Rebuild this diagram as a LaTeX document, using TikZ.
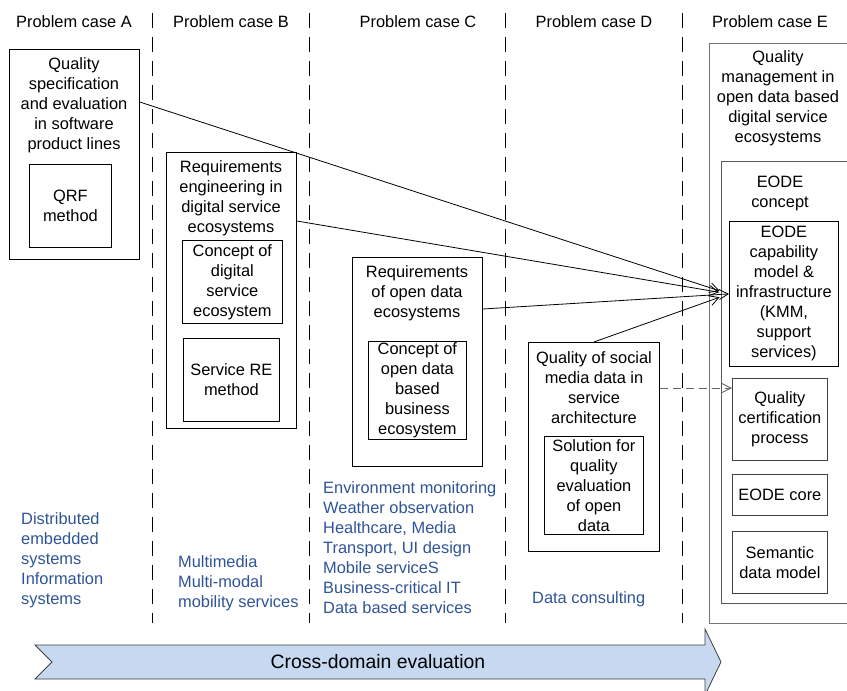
\documentclass[tikz,border=0pt]{standalone}
\usepackage{fontspec}
\setmainfont{Liberation Sans}
\usetikzlibrary{arrows.meta,calc}

\definecolor{domainblue}{RGB}{47,84,150}
\definecolor{bandfill}{RGB}{198,217,240}
\definecolor{bandline}{RGB}{64,64,64}
\definecolor{outergray}{RGB}{118,118,118}
\definecolor{midgray}{RGB}{90,90,90}
\definecolor{innergray}{RGB}{64,64,64}
\definecolor{dashgray}{RGB}{100,100,100}

\begin{document}
\begin{tikzpicture}[x=1pt,y=-1pt,
  font=\fontsize{16.4}{20}\selectfont,
  frame/.style={draw, line width=0.8pt, inner sep=0pt, anchor=north west, align=center},
  title/.style={align=center, inner sep=0pt},
  header/.style={inner sep=0pt},
  domaintext/.style={align=left, text=domainblue, inner sep=0pt, anchor=west},
  lane/.style={line width=0.8pt, dash pattern=on 15pt off 9pt},
  link/.style={line width=0.8pt, -{Straight Barb[length=9pt,width=10pt]}},
  weaklink/.style={line width=0.9pt, draw=dashgray, dash pattern=on 8pt off 5pt,
    -{Straight Barb[length=9pt,width=9pt]}}
]
\useasboundingbox (0,0) rectangle (847,691);
\clip (0,0) rectangle (847,691);

% lane separators
\coordinate (s1t) at (152,13); \coordinate (s1b) at (152,623);
\coordinate (s2t) at (309,13); \coordinate (s2b) at (309,623);
\coordinate (s3t) at (505,13); \coordinate (s3b) at (505,623);
\coordinate (s4t) at (682,13); \coordinate (s4b) at (682,623);
\draw[lane] (s1t) -- (s1b);
\draw[lane] (s2t) -- (s2b);
\draw[lane] (s3t) -- (s3b);
\draw[lane] (s4t) -- (s4b);

% column headers
\node[header] (hA) at (74,22) {Problem case A};
\node[header] (hB) at (231,22) {Problem case B};
\node[header] (hC) at (418,22) {Problem case C};
\node[header] (hD) at (594,22) {Problem case D};
\node[header] (hE) at (770,22) {Problem case E};

% case A
\node[frame, minimum width=130pt, minimum height=210pt] (A) at (9,49) {};
\node[title] (Atitle) at (74,105) {Quality\\specification\\and evaluation\\in software\\product lines};
\node[frame, minimum width=82pt, minimum height=83pt] (qrf) at (29,164) {QRF\\method};

% case B
\node[frame, minimum width=130pt, minimum height=276pt] (B) at (166,152) {};
\node[title] (Btitle) at (231,198) {Requirements\\engineering in\\digital service\\ecosystems};
\node[frame, minimum width=100pt, minimum height=83pt] (dse) at (182,240) {Concept of\\digital\\service\\ecosystem};
\node[frame, minimum width=96pt, minimum height=83pt] (sre) at (183,338) {Service RE\\method};

% case C
\node[frame, minimum width=130pt, minimum height=209pt] (C) at (352,257) {};
\node[title] (Ctitle) at (417,293) {Requirements\\of open data\\ecosystems};
\node[frame, minimum width=98pt, minimum height=98pt] (odb) at (368,341) {Concept of\\open data\\based\\business\\ecosystem};

% case D
\node[frame, minimum width=131pt, minimum height=209pt] (D) at (528,342) {};
\node[title] (Dtitle) at (594,388) {Quality of social\\media data in\\service\\architecture};
\node[frame, minimum width=99pt, minimum height=98pt] (sol) at (544,436) {Solution for\\quality\\evaluation\\of open\\data};

% case E
\node[frame, draw=outergray, minimum width=145pt, minimum height=580pt] (E) at (709,43) {};
\node[title] (Etitle) at (778,98) {Quality\\management in\\open data based\\digital service\\ecosystems};
\node[frame, draw=midgray, minimum width=135pt, minimum height=442pt] (eode) at (721,161) {};
\node[title] (eodetitle) at (780,193) {EODE\\concept};
\node[frame, minimum width=109pt, minimum height=145pt] (cap) at (729,221)
  {EODE\\capability\\model \&\\infrastructure\\(KMM,\\support\\services)};
\node[frame, draw=innergray, minimum width=95pt, minimum height=82pt] (cert) at (732,378)
  {Quality\\certification\\process};
\node[frame, draw=innergray, minimum width=95pt, minimum height=41pt] (core) at (732,474) {EODE core};
\node[frame, draw=innergray, minimum width=95pt, minimum height=62pt] (sem) at (732,531) {Semantic\\data model};

% application domains
\node[domaintext] (dA) at (21,560) {Distributed\\embedded\\systems\\Information\\systems};
\node[domaintext] (dB) at (178,583) {Multimedia\\Multi-modal\\mobility services};
\node[domaintext] (dC) at (323,548) {Environment monitoring\\Weather observation\\Healthcare, Media\\Transport, UI design\\Mobile serviceS\\Business-critical IT\\Data based services};
\node[domaintext] (dD) at (532,599) {Data consulting};

% contributions towards the EODE capability model
\draw[link, shorten >=10pt] ([yshift=-53pt]A.north east) -- (cap.west);
\draw[link, shorten >=10pt] ([yshift=-69pt]B.north east) -- (cap.west);
\draw[link] ([yshift=-52pt]C.north east) -- (cap.west);
\draw[link, shorten >=10pt] (D.north) -- (cap.west);
\coordinate (dsrc) at ([yshift=-46pt]D.north east);
\draw[weaklink] (dsrc) -- (dsrc -| cert.west);

% cross-domain evaluation band
\draw[fill=bandfill, draw=bandline, line width=0.8pt]
  (35,645) -- (705,645) -- (705,629) -- (721,662) -- (705,695) -- (705,679)
  -- (35,679) -- (52,662) -- cycle;
\node[header, font=\fontsize{19.4}{23}\selectfont] (band) at (378,662) {Cross-domain evaluation};

\end{tikzpicture}
\end{document}
